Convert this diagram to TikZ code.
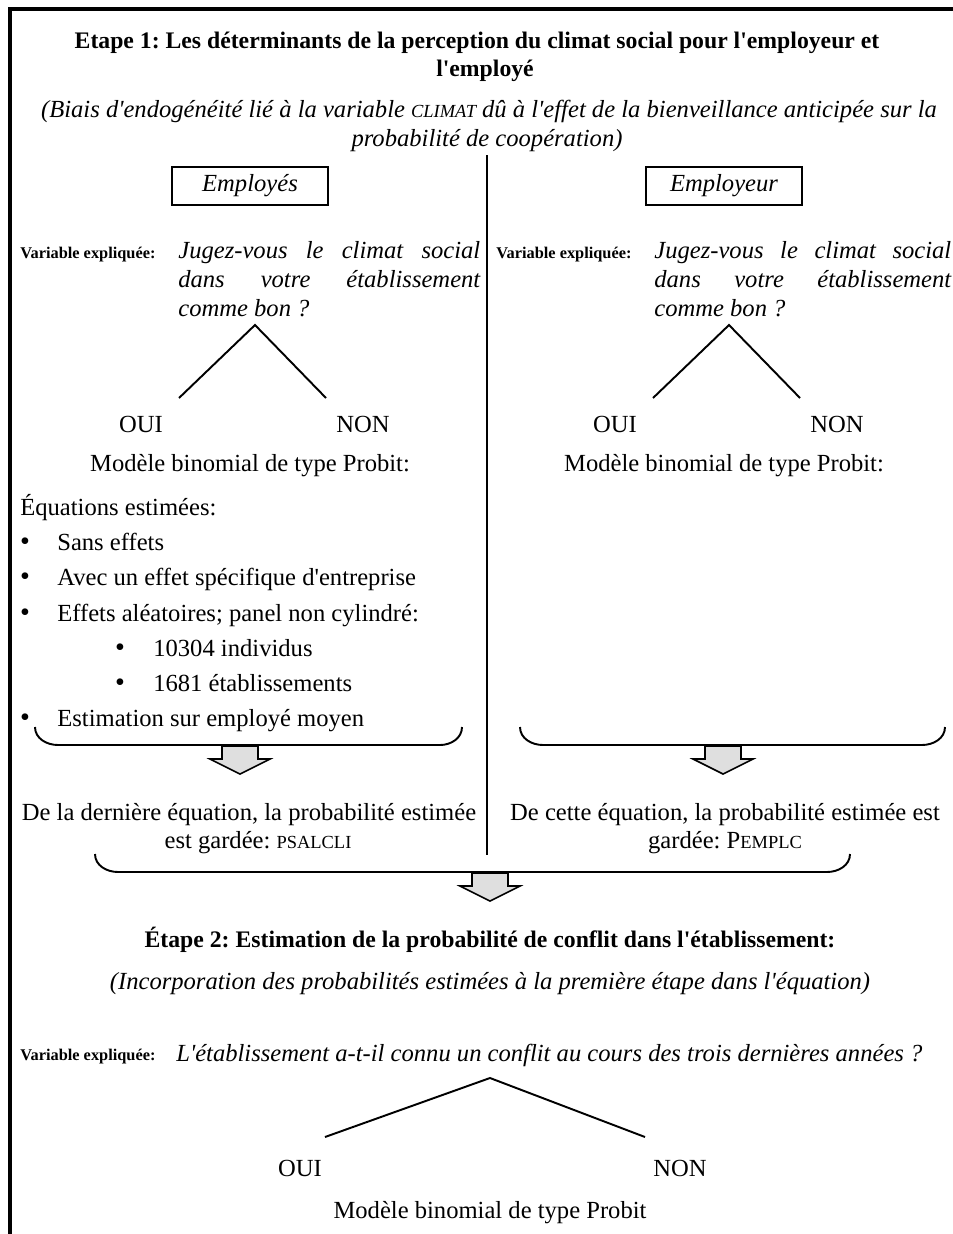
\documentclass[tikz,border=0pt]{standalone}
\usepackage{fontspec}
\setmainfont{Liberation Serif}[Ligatures=TeXOff]
\usetikzlibrary{positioning}

\newcommand{\smallcap}[1]{{\fontsize{10.5}{12}\selectfont #1}}
\frenchspacing

\begin{document}
\begin{tikzpicture}[x=0.02cm,y=-0.02cm,
    txt/.style={font=\fontsize{14}{16}\selectfont,inner sep=0pt,anchor=base},
    ttl/.style={txt,font=\fontsize{13.5}{16}\selectfont\bfseries},
    sub/.style={txt,font=\fontsize{14}{16}\selectfont\itshape},
    varlab/.style={font=\fontsize{9.3}{10}\selectfont\bfseries,inner sep=0pt,anchor=base west},
    quest/.style={font=\fontsize{14}{16.4}\selectfont\itshape,inner sep=0pt,text width=5.94cm,
      align=justify,anchor=north west},
    grpbox/.style={draw,line width=1.2pt,minimum width=3.12cm,minimum height=0.76cm,inner sep=0pt,
      font=\fontsize{14}{16}\selectfont\itshape},
    branch/.style={line width=1.1pt},
    brace/.style={line width=1.1pt},
    blockarrow/.style={draw,line width=0.9pt,fill=gray!25},
    frame/.style={line width=1.8pt}]
  \useasboundingbox (0,0) rectangle (953,1234);
  % open frame (top and left edges only)
  \draw[frame] (10,1234) -- (10,9) -- (953,9);

  % step 1 header
  \node[ttl] (ttl1) at (477,48) {Etape 1: Les déterminants de la perception du climat social pour l'employeur et};
  \node[ttl] (ttl2) at (485,76) {l'employé};
  \node[sub] (sub1) at (489,117) {(Biais d'endogénéité lié à la variable \smallcap{CLIMAT} dû à l'effet de la bienveillance anticipée sur la};
  \node[sub] (sub2) at (487,146) {probabilité de coopération)};
  \draw[line width=0.8pt] (487,155) -- (487,855);

  % two columns: employees and employer
  \node[grpbox] (empl) at (250,186) {Employés};
  \node[grpbox] (emplr) at (724,186) {Employeur};
  \node[varlab] (var1) at (20,258) {Variable expliquée:};
  \node[varlab] (var2) at (496,258) {Variable expliquée:};
  \node[quest,text width=6.04cm] (q1) at (178,241) {\hyphenpenalty=10000 Jugez-vous le climat social dans votre établissement comme bon ?};
  \node[quest] (q2) at (654,241) {\hyphenpenalty=10000 Jugez-vous le climat social dans votre établissement comme bon ?};

  % yes/no trees
  \foreach \cx/\sfx in {250/a,724/b} {
    \coordinate (top\sfx) at (\cx+5,325);
    \coordinate (yes\sfx) at (\cx-71,398);
    \coordinate (no\sfx) at (\cx+76,398);
    \draw[branch] (yes\sfx) -- (top\sfx) -- (no\sfx);
    \node[txt] (oui\sfx) at (\cx-109,432) {OUI};
    \node[txt] (non\sfx) at (\cx+113,432) {NON};
    \node[txt] (probit\sfx) at (\cx,471) {Modèle binomial de type Probit:};
  }

  % estimated equations (employees)
  \node[txt,anchor=base west] (eqs) at (20,515) {Équations estimées:};
  \foreach \yy/\lvl/\lbl [count=\i] in {550/0/Sans effets,585/0/Avec un effet spécifique d'entreprise,
      621/0/Effets aléatoires; panel non cylindré:,656/1/10304 individus,691/1/1681 établissements,
      726/0/Estimation sur employé moyen} {
    \node[txt,font=\fontsize{16}{16}\selectfont] (dot\i) at (25+95*\lvl,\yy) {\textbullet};
    \node[txt,anchor=base west] (item\i) at (57+96*\lvl,\yy) {\lbl};
  }

  % braces and block arrows
  \foreach \ax/\ay in {240/746,723/746,490/873}
    \draw[blockarrow] (\ax-18,\ay) -- (\ax+18,\ay) -- (\ax+18,\ay+13) -- (\ax+30,\ay+13)
      -- (\ax,\ay+28) -- (\ax-30,\ay+13) -- (\ax-18,\ay+13) -- cycle;
  \draw[brace] (35,727) to[out=-90,in=180] (58,745) -- (440,745) to[out=0,in=-90] (462,727);
  \draw[brace] (520,727) to[out=-90,in=180] (543,745) -- (922,745) to[out=0,in=-90] (945,727);
  \draw[brace] (95,854) to[out=-90,in=180] (118,872) -- (827,872) to[out=0,in=-90] (850,854);

  \node[txt] (keep1a) at (249,820) {De la dernière équation, la probabilité estimée};
  \node[txt] (keep1b) at (258,848) {est gardée: \smallcap{PSALCLI}};
  \node[txt] (keep2a) at (725,820) {De cette équation, la probabilité estimée est};
  \node[txt] (keep2b) at (725,848) {gardée: P\smallcap{EMPLC}};

  % step 2
  \node[ttl] (ttl3) at (490,947) {Étape 2: Estimation de la probabilité de conflit dans l'établissement:};
  \node[sub] (sub3) at (490,989) {(Incorporation des probabilités estimées à la première étape dans l'équation)};
  \node[varlab] (var3) at (20,1060) {Variable expliquée:};
  \node[sub,anchor=base west] (q3) at (176,1061) {L'établissement a-t-il connu un conflit au cours des trois dernières années ?};
  \coordinate (topc) at (490,1078);
  \coordinate (yesc) at (325,1137);
  \coordinate (noc) at (645,1137);
  \draw[branch] (yesc) -- (topc) -- (noc);
  \node[txt] (ouic) at (300,1176) {OUI};
  \node[txt] (nonc) at (680,1176) {NON};
  \node[txt] (probitc) at (490,1218) {Modèle binomial de type Probit};
\end{tikzpicture}
\end{document}
